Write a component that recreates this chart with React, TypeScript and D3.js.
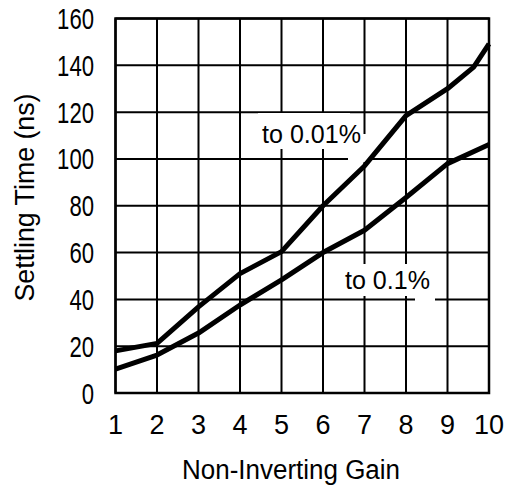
import React from "react";
import * as d3 from "d3";

const W = 509;
const H = 485;

const gainTicks = [1, 2, 3, 4, 5, 6, 7, 8, 9, 10];
const timeTicks = [0, 20, 40, 60, 80, 100, 120, 140, 160];

const gain001 = [1, 2, 3, 4, 5, 6, 7, 8, 9, 9.63, 10];
const time001 = [18, 21.2, 36.8, 51, 60.4, 80, 97, 118.5, 130, 139.2, 149.2];

const gain01 = [1, 2, 3, 4, 5, 6, 7, 8, 9, 10];
const time01 = [10.2, 16.2, 25.6, 37.6, 48.3, 60, 69.5, 83.5, 98, 106.2];

const xTitle = "Non-Inverting Gain";
const yTitle = "Settling Time (ns)";
const label001 = "to 0.01%";
const label01 = "to 0.1%";

const FONT = "'Liberation Sans', Arial, Helvetica, sans-serif";

export default function App() {
  const x = d3.scaleLinear().domain([1, 10]).range([115.5, 489]);
  const y = d3.scaleLinear().domain([0, 160]).range([393, 18.5]);

  const line = d3
    .line<[number, number]>()
    .x((d) => x(d[0]))
    .y((d) => y(d[1]))
    .curve(d3.curveLinear);

  const s001 = gain001.map((g, i) => [g, time001[i]] as [number, number]);
  const s01 = gain01.map((g, i) => [g, time01[i]] as [number, number]);

  return (
    <svg
      width={W}
      height={H}
      viewBox={`0 0 ${W} ${H}`}
      style={{ position: "absolute", left: 0, top: 0, background: "#fff" }}
    >
      <rect x={0} y={0} width={W} height={H} fill="#fff" />
      {/* grid */}
      {gainTicks.map((g) => (
        <line
          key={"vx" + g}
          x1={x(g)}
          x2={x(g)}
          y1={y(160)}
          y2={y(0)}
          stroke="#000"
          strokeWidth={2}
        />
      ))}
      {timeTicks.map((t) => (
        <line
          key={"hy" + t}
          x1={x(1)}
          x2={x(10)}
          y1={y(t)}
          y2={y(t)}
          stroke="#000"
          strokeWidth={2}
        />
      ))}
      <rect
        x={x(1)}
        y={y(160)}
        width={x(10) - x(1)}
        height={y(0) - y(160)}
        fill="none"
        stroke="#000"
        strokeWidth={2.5}
      />
      {/* label masks */}
      <rect x={258} y={113} width={92} height={36} fill="#fff" />
      <rect x={348} y={134} width={20} height={28} fill="#fff" />
      <rect x={341} y={264} width={95} height={32} fill="#fff" />
      <rect x={415} y={295} width={20} height={7} fill="#fff" />
      {/* curves */}
      <path d={line(s001) || ""} fill="none" stroke="#000" strokeWidth={5} strokeLinejoin="round" />
      <path d={line(s01) || ""} fill="none" stroke="#000" strokeWidth={5} strokeLinejoin="round" />
      {/* labels */}
      <text x={262} y={143} fontFamily={FONT} fontSize={25} fill="#000" textLength={99} lengthAdjust="spacingAndGlyphs">
        {label001}
      </text>
      <text x={345} y={288.5} fontFamily={FONT} fontSize={25} fill="#000" textLength={85} lengthAdjust="spacingAndGlyphs">
        {label01}
      </text>
      {/* x ticks */}
      {gainTicks.map((g) => (
        <text
          key={"xt" + g}
          x={x(g)}
          y={434}
          textAnchor="middle"
          fontFamily={FONT}
          fontSize={27}
          fill="#000"
        >
          {String(g)}
        </text>
      ))}
      {/* y ticks */}
      {timeTicks.map((t) => {
        const s = String(t);
        return (
          <text
            key={"yt" + t}
            x={94}
            y={y(t) + 10.5}
            textAnchor="end"
            fontFamily={FONT}
            fontSize={30}
            fill="#000"
            textLength={s.length * 12.3}
            lengthAdjust="spacingAndGlyphs"
          >
            {s}
          </text>
        );
      })}
      {/* axis titles */}
      <text
        x={291}
        y={479}
        textAnchor="middle"
        fontFamily={FONT}
        fontSize={27}
        fill="#000"
        textLength={218}
        lengthAdjust="spacingAndGlyphs"
      >
        {xTitle}
      </text>
      <text
        transform={`translate(33.5,197.5) rotate(-90)`}
        textAnchor="middle"
        fontFamily={FONT}
        fontSize={27}
        fill="#000"
        textLength={208}
        lengthAdjust="spacingAndGlyphs"
      >
        {yTitle}
      </text>
    </svg>
  );
}
